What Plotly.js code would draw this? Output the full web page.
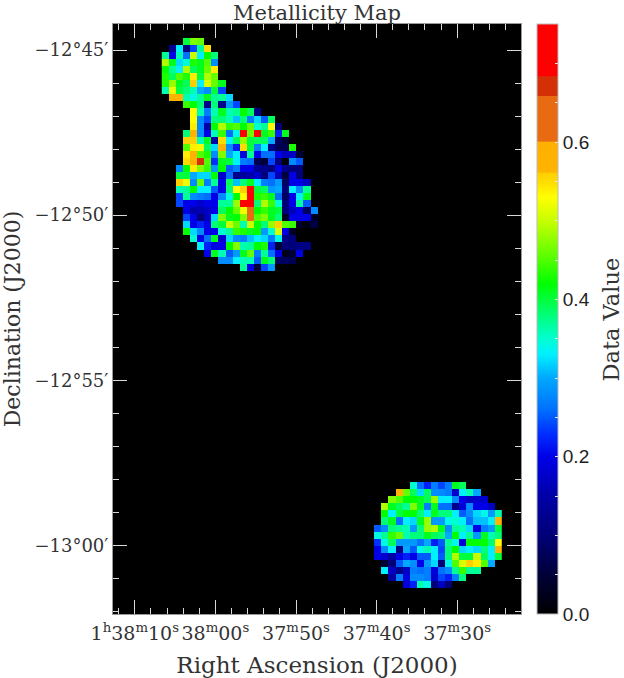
<!DOCTYPE html>
<html><head><meta charset="utf-8">
<script src="https://cdn.plot.ly/plotly-3.0.1.min.js"></script>
<style>html,body{margin:0;padding:0;background:#fff}</style>
</head><body><div id="chart" style="width:624px;height:678px"></div>
<script>
// Metallicity per map cell: each row lists its first column and then its values.
const northStart = [3,1,0,0,0,0,0,0,1,3,4,4,4,3,3,3,3,3,2,2,2,2,2,2,3,3,3,3,4,5,6,8,11];
const northValues = [
[.40,.47,.46],
[.13,.33,.10,.24,.37,.55],
[.37,.20,.36,.26,.50,.33,.42,.38],
[.49,.41,.32,.35,.43,.41,.45,.28],
[.42,.37,.33,.49,.39,.41,.46,.54],
[.43,.39,.45,.43,.54,.40,.49,.46],
[.43,.48,.41,.39,.56,.33,.51,.46,.41],
[.36,.52,.40,.38,.36,.30,.28,.40,.24],
[.58,.58,.36,.34,.37,.41,.37,.37,.32],
[.44,.42,.38,.12,.38,.12,.29,.24],
[.53,.36,.27,.36,.41,.36,.37,.42,.39,.12],
[.53,.28,.24,.38,.38,.36,.31,.38,.27,.32,.25,.39],
[.54,.28,.15,.42,.49,.44,.45,.42,.46,.35,.37,.53,.10],
[.38,.58,.28,.20,.36,.44,.26,.34,.74,.46,.74,.41,.44,.22,.41],
[.56,.56,.36,.41,.15,.55,.33,.39,.48,.40,.39,.39,.30,.08,.05],
[.45,.54,.52,.39,.32,.58,.28,.22,.55,.40,.27,.33,.12,.07,.07,.43],
[.54,.58,.45,.43,.28,.47,.30,.33,.19,.37,.20,.26,.26,.20,.17,.17,.05],
[.55,.58,.67,.45,.23,.41,.40,.33,.27,.26,.07,.05,.24,.10,.01,.28,.25],
[.28,.42,.54,.47,.44,.29,.42,.25,.27,.20,.20,.13,.12,.10,.20,.12,.10,.10],
[.40,.40,.30,.32,.32,.42,.18,.26,.12,.14,.15,.18,.10,.24,.16,.05,.20,.10],
[.56,.52,.28,.46,.27,.37,.20,.39,.31,.38,.41,.33,.27,.26,.29,.08,.20,.20,.17],
[.36,.37,.42,.33,.33,.25,.20,.38,.53,.56,.74,.40,.39,.29,.30,.10,.33,.28,.37],
[.24,.37,.28,.27,.26,.20,.28,.34,.42,.53,.74,.43,.44,.41,.26,.08,.20,.33,.41],
[.24,.20,.20,.18,.20,.20,.37,.37,.48,.74,.74,.38,.49,.44,.35,.10,.20,.37,.25],
[.20,.15,.16,.17,.20,.39,.42,.46,.52,.63,.42,.44,.41,.40,.10,.17,.20,.08,.28],
[.24,.20,.10,.17,.32,.47,.41,.42,.47,.63,.45,.47,.41,.38,.03,.20,.20,.20,.03],
[.32,.20,.22,.20,.38,.40,.50,.46,.36,.50,.42,.38,.48,.56,.45,.44,.03,.02,.06],
[.42,.32,.28,.20,.20,.35,.37,.44,.43,.41,.42,.29,.35,.51,.20,.03],
[.35,.20,.26,.41,.18,.32,.28,.27,.31,.33,.32,.27,.34,.12,.10],
[.33,.22,.20,.20,.42,.47,.36,.37,.42,.43,.22,.05,.10,.10,.11,.11],
[.20,.41,.36,.25,.29,.41,.46,.27,.37,.26,.20,.02,.05,.20],
[.28,.28,.33,.36,.36,.25,.41,.38,.08,.08,.07],
[.37,.20,.05,.24,.29]
];
const southStart = [35,33,32,31,31,31,30,30,30,30,30,31,31,32,34];
const southValues = [
[.35,.26,.22,.27,.24,.27,.41,.39],
[.58,.46,.39,.32,.39,.28,.28,.27,.18,.33,.36,.30],
[.47,.45,.42,.42,.41,.39,.48,.33,.33,.28,.20,.17,.18,.18],
[.49,.41,.39,.37,.47,.41,.27,.41,.26,.26,.12,.19,.28,.20,.20,.17],
[.42,.33,.40,.42,.42,.38,.33,.41,.38,.38,.33,.25,.28,.32,.34,.29,.36],
[.38,.41,.26,.33,.32,.41,.48,.29,.29,.34,.35,.33,.26,.31,.31,.33,.58],
[.25,.28,.38,.37,.36,.29,.38,.48,.49,.41,.28,.37,.36,.32,.20,.27,.29,.40],
[.34,.37,.44,.46,.36,.38,.38,.41,.39,.38,.30,.42,.33,.37,.29,.41,.36,.38],
[.23,.34,.39,.29,.29,.29,.26,.30,.22,.25,.37,.34,.19,.42,.42,.42,.38,.53],
[.20,.28,.33,.11,.30,.25,.34,.36,.33,.24,.38,.42,.32,.33,.32,.38,.33,.58],
[.20,.18,.15,.20,.22,.20,.25,.25,.33,.25,.38,.49,.40,.40,.50,.39,.33,.40],
[.05,.10,.25,.30,.28,.20,.29,.32,.10,.34,.45,.51,.56,.54,.45,.30],
[.33,.17,.12,.17,.27,.26,.27,.19,.26,.28,.37,.44,.37,.37],
[.14,.27,.19,.28,.28,.27,.18,.24,.22,.27,.38],
[.19,.22,.36,.34,.10,.17,.10]
];
const southFirstRow = 63;
const gridRows = 78, gridCols = 48;

const colorStops = [
[0,'#000000'],[.05,'#000038'],[.10,'#000078'],[.15,'#0000a8'],[.20,'#0000e8'],[.23,'#0030ff'],
[.26,'#0070ff'],[.30,'#00a8ff'],[.33,'#00f0ff'],[.35,'#00ffd0'],[.38,'#00ff78'],[.42,'#00ff00'],
[.45,'#50ff00'],[.50,'#c8ff00'],[.53,'#ffff00'],[.55,'#ffdc00'],[.56,'#ffd000'],[.562,'#ffb400'],
[.60,'#ffb000'],[.601,'#e86a12'],[.658,'#e86a12'],[.659,'#d33008'],[.683,'#d33008'],[.684,'#ff0000'],[.75,'#ff0000']
];
const zMax = .75;

const raMajor = [70,60,50,40,30];
const raLabels = ['1<sup>h</sup>38<sup>m</sup>10<sup>s</sup>','38<sup>m</sup>00<sup>s</sup>','37<sup>m</sup>50<sup>s</sup>','37<sup>m</sup>40<sup>s</sup>','37<sup>m</sup>30<sup>s</sup>'];
const raMinor = [72,68,66,64,62,58,56,54,52,48,46,44,42,38,36,34,32,28,26,24,22.2];
const decMajor = [-765,-770,-775,-780];
const decLabels = ['\u221212\u00b045\u2032','\u221212\u00b050\u2032','\u221212\u00b055\u2032','\u221213\u00b000\u2032'];
const decMinor = [-766,-767,-768,-769,-771,-772,-773,-774,-776,-777,-778,-779,-781,-782];
const barTicks = [0,.05,.1,.15,.2,.25,.3,.35,.4,.45,.5,.55,.6,.65,.7];
const barLabels = ['0.0','','','','0.2','','','','0.4','','','','0.6','',''];

const z = Array.from({length:gridRows}, () => new Array(gridCols).fill(null));
northValues.forEach((row,r) => row.forEach((v,i) => { z[r][northStart[r]+i] = v; }));
southValues.forEach((row,r) => row.forEach((v,i) => { z[southFirstRow+r][southStart[r]+i] = v; }));

const serif = {family:'"DejaVu Serif", serif', color:'#333', size:22};
const tickCol = '#d8d8d8';
const axisBase = {ticks:'inside', ticklen:14, tickwidth:1, tickcolor:tickCol, showgrid:false, zeroline:false,
  showline:true, linecolor:'#999', linewidth:1, mirror:'ticks', tickmode:'array', layer:'above traces'};

Plotly.newPlot('chart',[{
  type:'heatmap', z, x0:66.21, dx:-0.8783, y0:-764.74, dy:-0.2136,
  colorscale:colorStops.map(s => [s[0]/zMax,s[1]]), zmin:0, zmax:zMax, hoverongaps:false,
  colorbar:{x:1.04, xanchor:'left', y:0, yanchor:'bottom', len:1, ypad:0, xpad:0, thickness:21,
    tickmode:'array', tickvals:barTicks, ticktext:barLabels, ticks:'inside', ticklen:3, tickcolor:'#eee',
    outlinewidth:1, outlinecolor:'#bbb',
    tickfont:{family:'"Liberation Sans", sans-serif', size:19, color:'#222'}}
}],{
  width:624, height:678, margin:{l:113.3,r:103.3,t:24,b:64.3}, paper_bgcolor:'#fff', plot_bgcolor:'#000',
  title:{text:'Metallicity Map', x:.5, xref:'paper', xanchor:'center', y:.982, yref:'container', yanchor:'middle', font:{...serif,size:21}},
  annotations:[{text:'Data Value', xref:'paper', yref:'paper', x:1.2217, xanchor:'center', y:.5, yanchor:'middle', textangle:-90, showarrow:false, font:{...serif,size:22.5}}],
  xaxis:{...axisBase, range:[72.7,22.09], tickvals:raMajor, ticktext:raLabels, tickangle:0, tickfont:{...serif,size:19}, ticklabelstandoff:2,
    minor:{ticks:'inside', ticklen:6, tickcolor:tickCol, tickmode:'array', tickvals:raMinor},
    title:{text:'Right Ascension (J2000)', font:{...serif,size:23}, standoff:15}},
  yaxis:{...axisBase, range:[-782.08,-764.21], tickvals:decMajor, ticktext:decLabels, tickfont:{...serif,size:18},
    minor:{ticks:'inside', ticklen:6, tickcolor:tickCol, tickmode:'array', tickvals:decMinor},
    title:{text:'Declination (J2000)', font:{...serif,size:22}, standoff:11}}
},{displayModeBar:false, staticPlot:true});
</script></body></html>
